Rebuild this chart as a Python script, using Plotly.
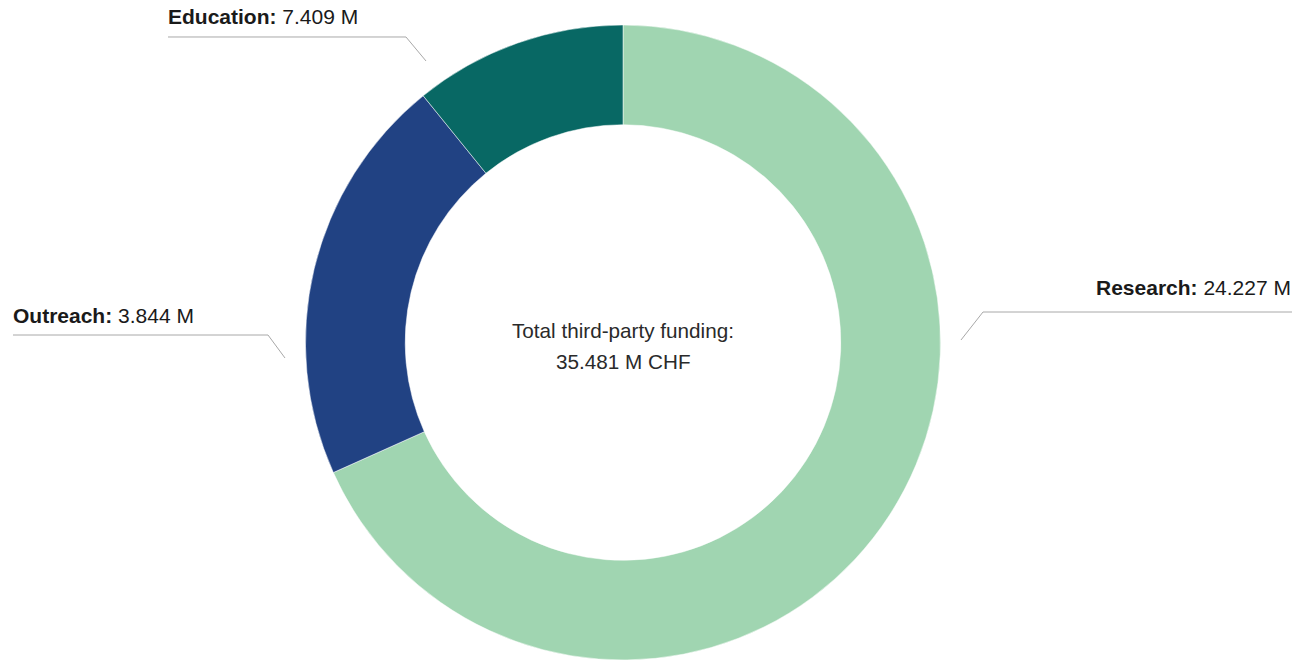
import plotly.graph_objects as go

categories = ["Research", "Education", "Outreach"]
values = [24.227, 7.409, 3.844]
colors = ["#a0d5b1", "#214283", "#086864"]
total = 35.481

W, H = 1306, 660


def px(x):
    return x / W


def py(y):
    return 1 - y / H


# label layout (pixel positions in the page)
label_pos = {
    "Research": dict(x=1293, y=288, anchor="right"),
    "Education": dict(x=166, y=16.5, anchor="left"),
    "Outreach": dict(x=11, y=315, anchor="left"),
}
leader = {
    "Research": [(1292, 312), (983, 312), (961, 340)],
    "Education": [(168, 37), (406, 37), (426, 61)],
    "Outreach": [(13, 335), (268, 335), (285, 358)],
}

cx, cy, r = 623, 343, 318

fig = go.Figure(go.Pie(
    labels=categories,
    values=values,
    marker=dict(colors=colors, line=dict(color="#ffffff", width=0.5)),
    hole=0.686,
    sort=False,
    direction="clockwise",
    rotation=0,
    textinfo="none",
    hoverinfo="label+value",
    domain=dict(x=[px(cx - r - 20), px(cx + r + 20)], y=[max(0.0, py(cy + r)), py(cy - r)]),
    showlegend=False,
))

FONT = "Liberation Sans, Arial, sans-serif"
annotations = []
for cat, val in zip(categories, values):
    p = label_pos[cat]
    annotations.append(dict(
        text=f"<b>{cat}:</b> {val:.3f} M",
        x=px(p["x"]), y=py(p["y"]), xref="paper", yref="paper",
        xanchor=p["anchor"], yanchor="middle", showarrow=False,
        font=dict(family=FONT, size=21, color="#1a1a1a"),
    ))

center_lines = ["Total third-party funding:", f"{total:.3f} M CHF"]
for text, yy in zip(center_lines, [331, 361]):
    annotations.append(dict(
        text=text,
        x=px(cx), y=py(yy), xref="paper", yref="paper",
        xanchor="center", yanchor="middle", showarrow=False,
        font=dict(family=FONT, size=20.7, color="#2a2a2a"),
    ))

shapes = []
for cat in categories:
    pts = leader[cat]
    path = "M " + " L ".join(f"{px(x):.5f},{py(y):.5f}" for x, y in pts)
    shapes.append(dict(type="path", path=path, xref="paper", yref="paper",
                       line=dict(color="#a8a8a8", width=1)))

fig.update_layout(
    width=W, height=H,
    margin=dict(l=0, r=0, t=0, b=0),
    paper_bgcolor="white", plot_bgcolor="white",
    annotations=annotations,
    shapes=shapes,
)

fig.write_html("out.html", config={"displayModeBar": False},
               post_script="document.body.style.margin='0';")
